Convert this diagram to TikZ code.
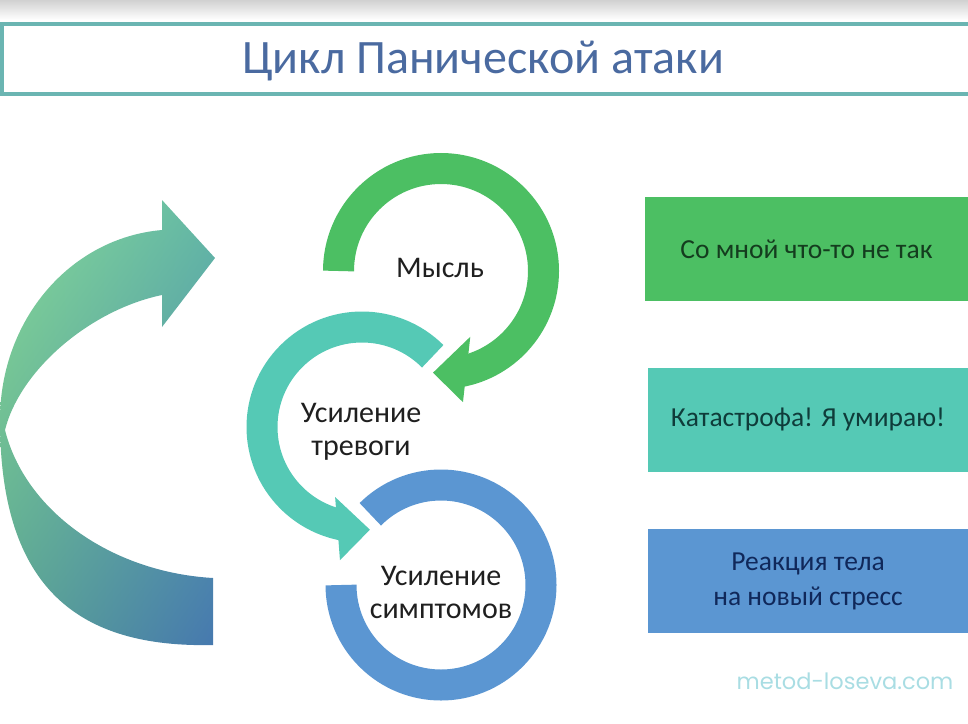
\documentclass[tikz,border=0pt]{standalone}
\usepackage{fontspec}
\setmainfont{Carlito}
\newfontfamily\sitefont{Poppins}
\usetikzlibrary{calc,shadings}
\definecolor{thought}{RGB}{76,191,99}
\definecolor{alarm}{RGB}{85,201,181}
\definecolor{symptom}{RGB}{91,150,210}
\definecolor{titleblue}{RGB}{74,106,160}
\definecolor{frameteal}{RGB}{107,181,178}
\definecolor{sitecol}{RGB}{169,221,227}
\definecolor{loopUL}{RGB}{135,218,152}
\definecolor{loopUR}{RGB}{100,185,165}
\definecolor{loopLL}{RGB}{90,165,145}
\definecolor{loopLR}{RGB}{70,120,175}
\begin{document}
\begin{tikzpicture}[x=1pt,y=1pt,
    ring/.style={line width=31pt},
    lbl/.style={align=center,text=black!88,font=\fontsize{30}{33}\selectfont},
    box/.style={minimum height=104pt,inner sep=0pt,align=center,font=\fontsize{27.5}{35}\selectfont}]
    \useasboundingbox (0,0) rectangle (968,-723);
    \shade[top color=black!18,bottom color=white] (0,0) rectangle (968,-20);
    % title
    \draw[frameteal,line width=4pt] (968,-24) -- (2,-24) -- (2,-94) -- (968,-94);
    \node[text=titleblue,font=\fontsize{48}{56}\selectfont] (title) at (483,-61) {Цикл Панической атаки};
    % big return arrow
    \shade[upper left=loopUL,upper right=loopUR,lower left=loopLL,lower right=loopLR]
      (213,-645) -- (213,-578) .. controls (110,-572) and (25,-510) .. (5,-430)
      .. controls (20,-370) and (90,-310) .. (162,-295) -- (162,-327) -- (215,-258) -- (162,-200) -- (162,-230)
      .. controls (70,-238) and (0,-320) .. (0,-420) .. controls (0,-590) and (80,-648) .. (213,-645) -- cycle;
    % cycle rings
    \coordinate (G) at (441,-271);
    \coordinate (T) at (362,-427);
    \coordinate (B) at (441,-585);
    \draw[ring,symptom] ($(B)+(135:100)$) arc[start angle=135,end angle=-180,radius=100];
    \draw[ring,thought] ($(G)+(180:102.5)$) arc[start angle=180,end angle=-80,radius=102.5];
    \fill[thought] ($(G)+(-66:72)$) -- ($(G)+(-94.5:102)$) -- ($(G)+(-80.5:133)$) -- cycle;
    \draw[ring,alarm] ($(T)+(45:100)$) arc[start angle=45,end angle=259,radius=100];
    \fill[alarm] ($(T)+(249:75)$) -- ($(T)+(274.4:103)$) -- ($(T)+(260.6:135)$) -- cycle;
    \node[lbl,anchor=base] (think) at (440,-277) {Мысль};
    \node[lbl] (worry) at (361,-432) {Усиление\\тревоги};
    \node[lbl] (symp) at (441,-592) {Усиление\\симптомов};
    % right boxes
    \node[box,fill=thought,minimum width=323pt,text={rgb,255:red,20;green,60;blue,30}] (b1) at (806.5,-249) {Со мной что-то не так};
    \node[box,fill=alarm,minimum width=320pt,text={rgb,255:red,15;green,60;blue,58}] (b2) at (808,-419.5) {Катастрофа! Я умираю!};
    \node[box,fill=symptom,minimum width=320pt,text={rgb,255:red,16;green,40;blue,90}] (b3) at (808,-581) {Реакция тела\\на новый стресс};
    \node[text=sitecol,font=\sitefont\fontsize{22.5}{26}\selectfont] (site) at (845,-681) {metod-loseva.com};
\end{tikzpicture}
\end{document}
